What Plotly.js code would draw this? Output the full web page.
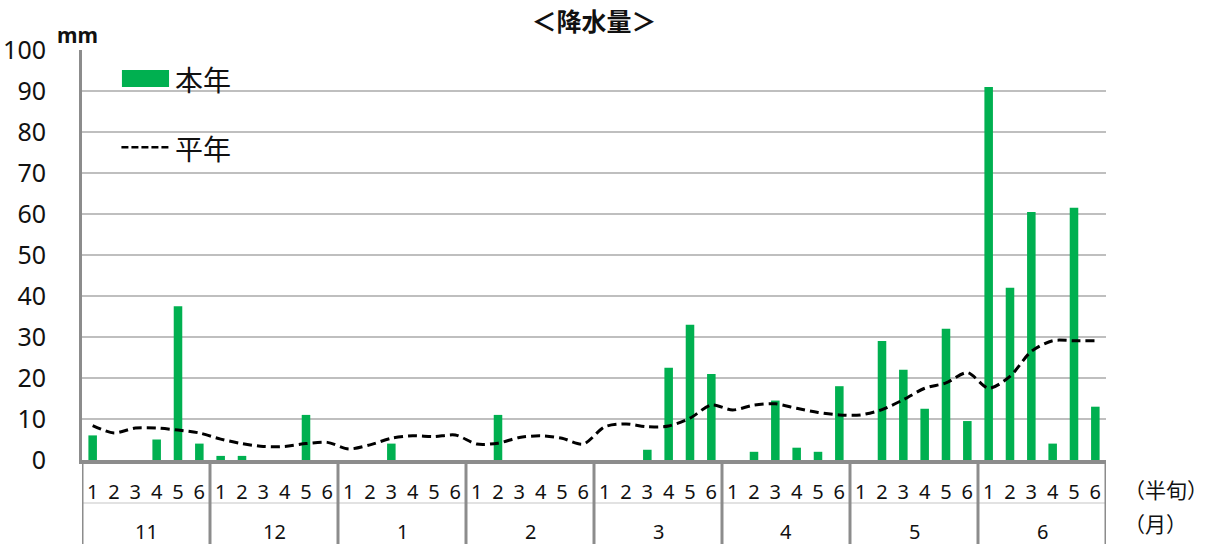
<!DOCTYPE html>
<html>
<head>
<meta charset="utf-8">
<script src="https://cdn.plot.ly/plotly-3.0.1.min.js"></script>
<style>html,body{margin:0;padding:0;background:#fff;}#chart{width:1209px;height:544px;}</style>
</head>
<body>
<div id="chart"></div>
<script>
// ---- data ----
const months = ['11', '12', '1', '2', '3', '4', '5', '6'];
const halves = ['1', '2', '3', '4', '5', '6'];
const seriesNames = ['本年', '平年'];
const thisYear = [
  6.0, 0, 0, 5.0, 37.5, 4.0,
  1.0, 1.0, 0, 0, 11.0, 0,
  0, 0, 4.0, 0, 0, 0,
  0, 11.0, 0, 0, 0, 0,
  0, 0, 2.5, 22.5, 33.0, 21.0,
  0, 2.0, 14.5, 3.0, 2.0, 18.0,
  0, 29.0, 22.0, 12.5, 32.0, 9.5,
  91.0, 42.0, 60.5, 4.0, 61.5, 13.0
];
const normalYear = [
  8.4, 6.6, 7.8, 7.8, 7.3, 6.6,
  5.1, 4.0, 3.3, 3.3, 4.0, 4.3,
  2.7, 3.7, 5.3, 5.9, 5.7, 6.1,
  3.9, 4.1, 5.5, 5.9, 5.3, 3.9,
  8.1, 8.8, 8.1, 8.3, 10.2, 13.4,
  12.2, 13.4, 13.7, 12.6, 11.6, 11.0,
  11.0, 12.3, 14.7, 17.5, 18.8, 21.3,
  17.5, 20.4, 26.5, 29.1, 29.1, 29.1
];
const titleText = '＜降水量＞';
const unitText = 'mm';
const halfLabel = '（半旬）';
const monthLabel = '（月）';

// ---- build ----
const nPer = halves.length;
const idx = [], halfText = [];
months.forEach((m, mi) => halves.forEach((h, hi) => { idx.push(mi * nPer + hi); halfText.push(h); }));

const FONT = '"Noto Sans", "Noto Sans CJK JP", sans-serif';
const JFONT = '"Noto Sans CJK JP", "Noto Sans", sans-serif';
const GREEN = '#00B050';
const AXIS = '#8C8C8C';
const TXT = '#111';

const traces = [
  { type: 'bar', x: idx, y: thisYear, name: seriesNames[0], marker: { color: GREEN }, hoverinfo: 'y' },
  { type: 'scatter', mode: 'lines', x: idx, y: normalYear, name: seriesNames[1],
    line: { color: '#000', width: 3, dash: '9px,5px', shape: 'spline', smoothing: 0.8 }, hoverinfo: 'y' }
];

const plotH = 410;
const bottomPaper = -(544 - 460) / plotH;
const shapes = [];
for (let b = 0; b <= months.length; b++) {
  shapes.push({ type: 'line', xref: 'x', yref: 'paper', x0: b * nPer - 0.5, x1: b * nPer - 0.5,
    y0: 0, y1: bottomPaper - 0.05, line: { color: AXIS, width: 3 }, layer: 'above' });
}
shapes.push({ type: 'line', xref: 'x', yref: 'paper', x0: -0.5, x1: months.length * nPer - 0.5,
  y0: -43 / plotH, y1: -43 / plotH, line: { color: '#D9D9D9', width: 1.5 }, layer: 'below' });
// legend symbols
shapes.push({ type: 'rect', xref: 'paper', yref: 'paper', x0: 0.039, x1: 0.085, y0: 0.910, y1: 0.951,
  fillcolor: GREEN, line: { width: 0 } });
shapes.push({ type: 'line', xref: 'paper', yref: 'paper', x0: 0.0385, x1: 0.086, y0: 0.763, y1: 0.763,
  line: { color: '#000', width: 2.5, dash: '7px,3px' } });

const annotations = [];
months.forEach((m, mi) => {
  annotations.push({ xref: 'x', yref: 'paper', x: mi * nPer + (nPer - 1) / 2, y: (460 - 531) / plotH,
    text: m, showarrow: false, xanchor: 'center', yanchor: 'middle', font: { family: FONT, size: 20, color: TXT } });
});
annotations.push({ xref: 'paper', yref: 'paper', x: 1.016, y: (460 - 489) / plotH, text: halfLabel,
  showarrow: false, xanchor: 'left', yanchor: 'middle', font: { family: JFONT, size: 21, color: TXT } });
annotations.push({ xref: 'paper', yref: 'paper', x: 1.016, y: (460 - 523) / plotH, text: monthLabel,
  showarrow: false, xanchor: 'left', yanchor: 'middle', font: { family: JFONT, size: 21, color: TXT } });
annotations.push({ xref: 'paper', yref: 'paper', x: -0.026, y: (460 - 35) / plotH, text: '<b>' + unitText + '</b>',
  showarrow: false, xanchor: 'left', yanchor: 'middle', font: { family: FONT, size: 21, color: TXT } });
annotations.push({ xref: 'paper', yref: 'paper', x: 0.089, y: 0.929, text: seriesNames[0],
  showarrow: false, xanchor: 'left', yanchor: 'middle', font: { family: JFONT, size: 28, color: TXT } });
annotations.push({ xref: 'paper', yref: 'paper', x: 0.089, y: 0.761, text: seriesNames[1],
  showarrow: false, xanchor: 'left', yanchor: 'middle', font: { family: JFONT, size: 28, color: TXT } });

const layout = {
  width: 1209, height: 544,
  margin: { l: 82, r: 103, t: 50, b: 84 },
  paper_bgcolor: '#fff', plot_bgcolor: '#fff',
  showlegend: false,
  bargap: 0.6,
  title: { text: '<b>' + titleText + '</b>', x: 0.5, xref: 'paper', y: 1 - 22 / 544, yref: 'container',
    xanchor: 'center', yanchor: 'middle', font: { family: JFONT, size: 25, color: TXT } },
  xaxis: {
    range: [-0.5, months.length * nPer - 0.5], tickmode: 'array', tickvals: idx, ticktext: halfText,
    tickfont: { family: FONT, size: 20, color: TXT }, ticks: '', ticklabelstandoff: 11,
    showline: true, linecolor: AXIS, linewidth: 4, showgrid: false, zeroline: false, fixedrange: true
  },
  yaxis: {
    range: [0, 100], dtick: 10, tick0: 0,
    tickfont: { family: FONT, size: 25, color: TXT }, ticks: '', ticklabelstandoff: 28,
    showline: true, linecolor: AXIS, linewidth: 3, showgrid: true, gridcolor: '#BFBFBF', gridwidth: 1.5,
    zeroline: false, fixedrange: true
  },
  shapes: shapes,
  annotations: annotations
};

Plotly.newPlot('chart', traces, layout, { displayModeBar: false, staticPlot: true });
</script>
</body>
</html>
